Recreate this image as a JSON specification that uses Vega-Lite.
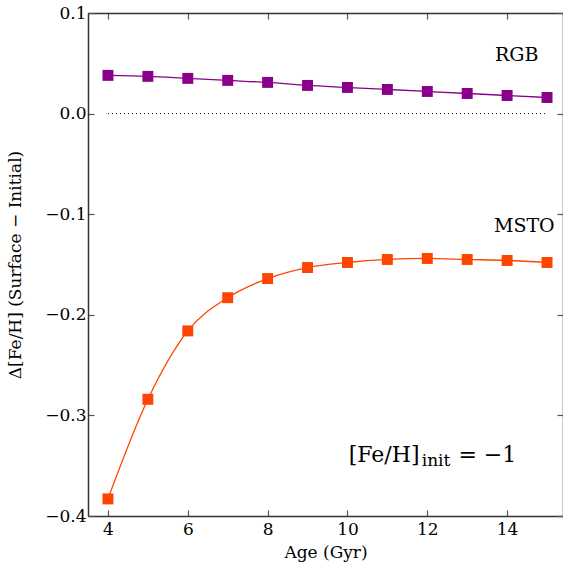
{
  "$schema": "https://vega.github.io/schema/vega-lite/v6.json",
  "width": 475,
  "height": 503,
  "autosize": "none",
  "padding": {"left": 88, "top": 13, "right": 0, "bottom": 55},
  "background": "white",
  "config": {
    "view": {"stroke": null},
    "font": "DejaVu Serif",
    "axis": {
      "labelFont": "DejaVu Serif",
      "titleFont": "DejaVu Serif",
      "labelFontSize": 17,
      "titleFontSize": 17,
      "titleFontWeight": "normal",
      "labelColor": "#000",
      "titleColor": "#000",
      "domainColor": "#333",
      "domainWidth": 1.5,
      "tickColor": "#555",
      "tickWidth": 1.2,
      "tickSize": -6,
      "grid": false
    }
  },
  "datasets": {
    "pts": [
      {"age": 4, "dfeh": 0.038, "branch": "RGB"},
      {"age": 5, "dfeh": 0.037, "branch": "RGB"},
      {"age": 6, "dfeh": 0.035, "branch": "RGB"},
      {"age": 7, "dfeh": 0.033, "branch": "RGB"},
      {"age": 8, "dfeh": 0.031, "branch": "RGB"},
      {"age": 9, "dfeh": 0.028, "branch": "RGB"},
      {"age": 10, "dfeh": 0.026, "branch": "RGB"},
      {"age": 11, "dfeh": 0.024, "branch": "RGB"},
      {"age": 12, "dfeh": 0.022, "branch": "RGB"},
      {"age": 13, "dfeh": 0.020, "branch": "RGB"},
      {"age": 14, "dfeh": 0.018, "branch": "RGB"},
      {"age": 15, "dfeh": 0.016, "branch": "RGB"},
      {"age": 4, "dfeh": -0.383, "branch": "MSTO"},
      {"age": 5, "dfeh": -0.284, "branch": "MSTO"},
      {"age": 6, "dfeh": -0.216, "branch": "MSTO"},
      {"age": 7, "dfeh": -0.183, "branch": "MSTO"},
      {"age": 8, "dfeh": -0.164, "branch": "MSTO"},
      {"age": 9, "dfeh": -0.153, "branch": "MSTO"},
      {"age": 10, "dfeh": -0.148, "branch": "MSTO"},
      {"age": 11, "dfeh": -0.145, "branch": "MSTO"},
      {"age": 12, "dfeh": -0.144, "branch": "MSTO"},
      {"age": 13, "dfeh": -0.145, "branch": "MSTO"},
      {"age": 14, "dfeh": -0.146, "branch": "MSTO"},
      {"age": 15, "dfeh": -0.148, "branch": "MSTO"}
    ],
    "zero": [
      {"age": 4, "dfeh": 0},
      {"age": 15, "dfeh": 0}
    ],
    "one": [{}]
  },
  "resolve": {"axis": {"x": "independent", "y": "independent"}},
  "layer": [
    {
      "data": {"name": "zero"},
      "mark": {"type": "line", "color": "#000", "strokeWidth": 1, "strokeDash": [1, 3]},
      "encoding": {
        "x": {"field": "age", "type": "quantitative", "scale": {"domain": [3.5, 15.4], "nice": false, "zero": false},
              "axis": {"title": "Age (Gyr)", "values": [4, 6, 8, 10, 12, 14], "labelPadding": 11, "titlePadding": 7}},
        "y": {"field": "dfeh", "type": "quantitative", "scale": {"domain": [-0.4, 0.1], "nice": false, "zero": false},
              "axis": {"title": "Δ[Fe/H] (Surface − Initial)", "values": [-0.4, -0.3, -0.2, -0.1, 0, 0.1], "labelExpr": "datum.value < -0.001 ? '−' + format(-datum.value, '.1f') : format(abs(datum.value), '.1f')", "labelPadding": 8, "titlePadding": 20}}
      }
    },
    {
      "data": {"name": "pts"},
      "mark": {"type": "line", "strokeWidth": 1.3, "interpolate": "monotone"},
      "encoding": {
        "x": {"field": "age", "type": "quantitative", "axis": {"orient": "top", "labels": false, "title": null, "values": [4, 6, 8, 10, 12, 14]}},
        "y": {"field": "dfeh", "type": "quantitative", "axis": {"orient": "right", "labels": false, "title": null, "values": [-0.4, -0.3, -0.2, -0.1, 0, 0.1]}},
        "color": {"field": "branch", "type": "nominal", "scale": {"domain": ["RGB", "MSTO"], "range": ["#8B008B", "#FF4500"]}, "legend": null},
        "detail": {"field": "branch"}
      }
    },
    {
      "data": {"name": "pts"},
      "mark": {"type": "square", "size": 120, "opacity": 1, "filled": true},
      "encoding": {
        "x": {"field": "age", "type": "quantitative", "axis": null},
        "y": {"field": "dfeh", "type": "quantitative", "axis": null},
        "color": {"field": "branch", "type": "nominal", "legend": null}
      }
    },
    {
      "data": {"name": "one"},
      "mark": {"type": "text", "fontSize": 19, "font": "DejaVu Serif", "align": "center", "baseline": "middle", "color": "#000"},
      "encoding": {"x": {"datum": 14.24, "axis": null}, "y": {"datum": 0.0578, "axis": null}, "text": {"value": "RGB"}}
    },
    {
      "data": {"name": "one"},
      "mark": {"type": "text", "fontSize": 19, "font": "DejaVu Serif", "align": "center", "baseline": "middle", "color": "#000"},
      "encoding": {"x": {"datum": 14.43, "axis": null}, "y": {"datum": -0.1117, "axis": null}, "text": {"value": "MSTO"}}
    },
    {
      "data": {"name": "one"},
      "mark": {"type": "text", "fontSize": 22, "font": "DejaVu Serif", "align": "left", "baseline": "alphabetic", "color": "#000"},
      "encoding": {"x": {"datum": 10.03, "axis": null}, "y": {"datum": -0.3463, "axis": null}, "text": {"value": "[Fe/H]"}}
    },
    {
      "data": {"name": "one"},
      "mark": {"type": "text", "fontSize": 17, "font": "DejaVu Serif", "align": "left", "baseline": "alphabetic", "color": "#000"},
      "encoding": {"x": {"datum": 11.86, "axis": null}, "y": {"datum": -0.3503, "axis": null}, "text": {"value": "init"}}
    },
    {
      "data": {"name": "one"},
      "mark": {"type": "text", "fontSize": 22, "font": "DejaVu Serif", "align": "left", "baseline": "alphabetic", "color": "#000"},
      "encoding": {"x": {"datum": 12.78, "axis": null}, "y": {"datum": -0.3463, "axis": null}, "text": {"value": "= −1"}}
    }
  ]
}
